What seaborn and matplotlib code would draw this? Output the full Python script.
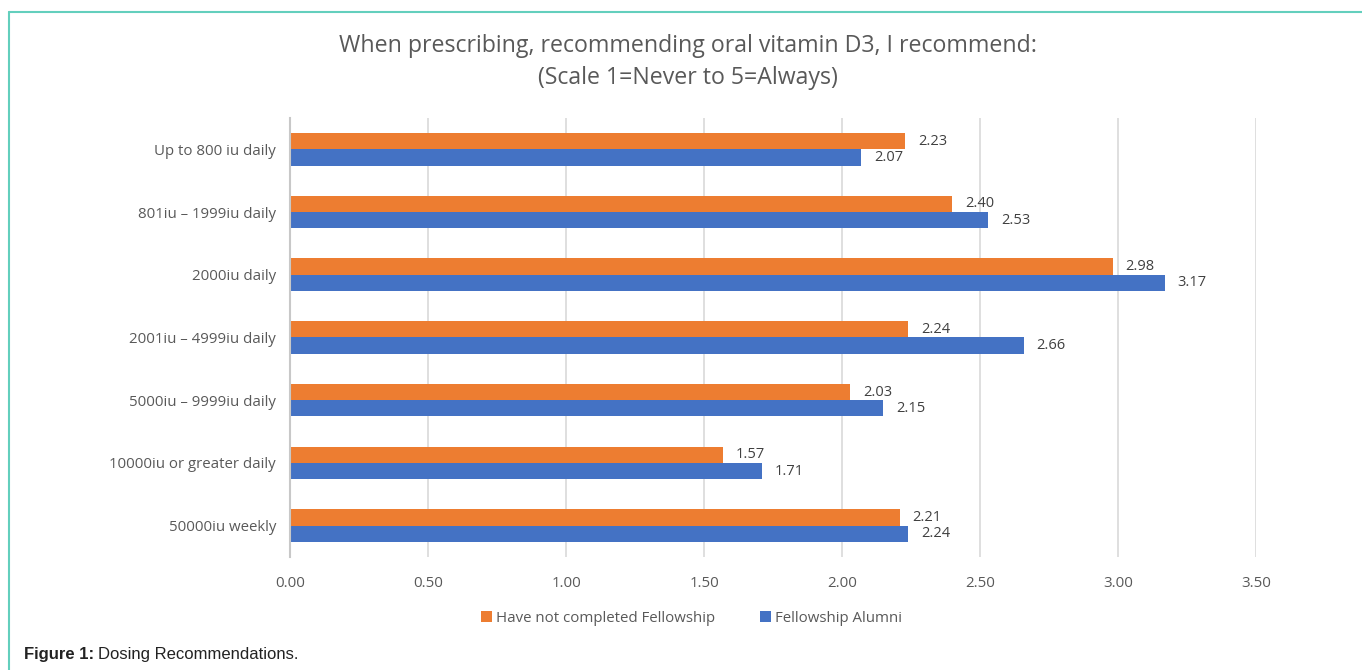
import matplotlib
matplotlib.use("Agg")
import matplotlib.pyplot as plt
import seaborn as sns
import pandas as pd
from matplotlib.lines import Line2D
from matplotlib.patches import Patch
from matplotlib.ticker import FormatStrFormatter

categories = ["Up to 800 iu daily", "801iu \u2013 1999iu daily", "2000iu daily",
              "2001iu \u2013 4999iu daily", "5000iu \u2013 9999iu daily",
              "10000iu or greater daily", "50000iu weekly"]
not_completed = [2.23, 2.40, 2.98, 2.24, 2.03, 1.57, 2.21]
alumni = [2.07, 2.53, 3.17, 2.66, 2.15, 1.71, 2.24]
series_names = ["Have not completed Fellowship", "Fellowship Alumni"]
colors = ["#ED7D31", "#4472C4"]
x_ticks = [0, 0.5, 1.0, 1.5, 2.0, 2.5, 3.0, 3.5]

df = pd.DataFrame({
    "category": categories * 2,
    "value": not_completed + alumni,
    "series": [series_names[0]] * len(categories) + [series_names[1]] * len(categories),
})

sns.set_theme(style="white")
plt.rcParams["font.family"] = ["Open Sans", "DejaVu Sans"]
text_color = "#595959"

fig = plt.figure(figsize=(13.62, 6.70), dpi=100)
ax = fig.add_axes([0.2129, 0.1687, 0.9222 - 0.2129, 0.8239 - 0.1687])

sns.barplot(data=df, y="category", x="value", hue="series", order=categories,
            hue_order=series_names, palette=colors, width=0.52, orient="h",
            ax=ax, legend=False, saturation=1, linewidth=0, edgecolor="none")

ax.set_xlim(0, 3.5)
ax.set_ylim(6.5, -0.5)
ax.set_xticks(x_ticks)
ax.xaxis.set_major_formatter(FormatStrFormatter("%.2f"))
ax.grid(axis="x", color="#D9D9D9", linewidth=1.2)
ax.set_axisbelow(True)
for s in ["top", "right", "bottom"]:
    ax.spines[s].set_visible(False)
ax.spines["left"].set_color("#C8C8C8")
ax.spines["left"].set_linewidth(1.5)
ax.set_xlabel("")
ax.set_ylabel("")
ax.tick_params(axis="both", length=0, labelsize=10.8, labelcolor=text_color)
ax.tick_params(axis="y", pad=10)
ax.tick_params(axis="x", pad=14)

for cont in ax.containers:
    ax.bar_label(cont, fmt="%.2f", padding=9, fontsize=10.5, color="#404040")

fig.text(0.505, 0.932, "When prescribing, recommending oral vitamin D3, I recommend:",
         ha="center", va="center", fontsize=16.7, color=text_color)
fig.text(0.505, 0.884, "(Scale 1=Never to 5=Always)",
         ha="center", va="center", fontsize=16.7, color=text_color)

handles = [Patch(facecolor=c, edgecolor="none") for c in colors]
fig.legend(handles, series_names, loc="center", bbox_to_anchor=(0.508, 0.077),
           ncol=2, frameon=False, fontsize=10.8, handlelength=0.7, handleheight=0.7,
           handletextpad=0.3, columnspacing=3.0, labelcolor=text_color)

teal = "#63CFBD"
fig.add_artist(Line2D([9 / 1362, 1.0], [1 - 12 / 670, 1 - 12 / 670], color=teal,
                      linewidth=1.5, transform=fig.transFigure))
fig.add_artist(Line2D([9 / 1362, 9 / 1362], [0.0, 1 - 12 / 670], color=teal,
                      linewidth=1.5, transform=fig.transFigure))

cap_y = 1 - 655 / 670
t1 = fig.text(24 / 1362, cap_y, "Figure 1:", family=["Liberation Sans"],
              fontweight="bold", fontsize=12, color="#222222", ha="left", va="center")
fig.canvas.draw()
bb = t1.get_window_extent()
fig.text((bb.x1 + 4) / 1362, cap_y, "Dosing Recommendations.",
         family=["Liberation Sans"], fontsize=12, color="#222222", ha="left", va="center")

fig.savefig("out.png", dpi=100)
